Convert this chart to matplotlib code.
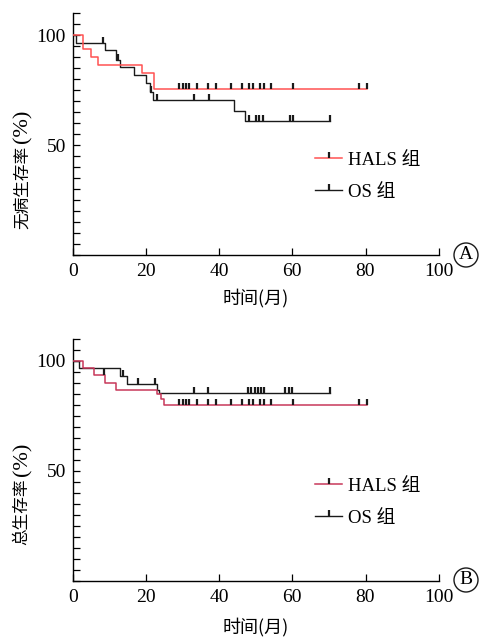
import matplotlib
matplotlib.use("Agg")
import matplotlib.pyplot as plt
from matplotlib.lines import Line2D
import numpy as np

# ---------------- data ----------------
# Panel A: disease-free survival
a_hals_t = [0, 2.8, 5.0, 7.0, 18.9, 22.1, 80.5]
a_hals_s = [100, 93.5, 90.1, 86.4, 82.9, 75.5, 75.5]
a_hals_cens = [29, 30, 31, 31.8, 34, 37, 39.1, 43.3, 46.2, 48.3, 49.2, 51.3, 52.3, 54.3, 60.2, 78.3, 80.4]

a_os_t = [0, 0.8, 8.8, 11.8, 12.9, 16.8, 20.1, 21.0, 22.0, 44.2, 47.2, 70.3]
a_os_s = [100, 96.5, 93.2, 88.6, 85.6, 81.8, 78.0, 74.2, 70.5, 65.6, 60.9, 60.9]
a_os_cens = [8.2, 12.5, 21.3, 23.0, 33.1, 37.2, 48.1, 50.1, 51.0, 52.0, 59.3, 60.2, 70.3]

# Panel B: overall survival
b_hals_t = [0, 2.8, 5.9, 8.8, 11.8, 23.0, 24.2, 25.0, 80.5]
b_hals_s = [100, 96.6, 93.6, 90.2, 87.0, 85.0, 82.5, 80.0, 80.0]
b_hals_cens = [8.5, 29, 30, 31, 31.8, 34, 37, 39.1, 43.3, 46.2, 48.3, 49.2, 51.3, 52.3, 54.3, 60.2, 78.3, 80.4]

b_os_t = [0, 1.7, 12.9, 14.8, 23.0, 23.6, 70.3]
b_os_s = [100, 96.6, 93.1, 89.3, 87.0, 85.2, 85.2]
b_os_cens = [13.7, 17.9, 22.5, 33.1, 36.9, 47.8, 48.8, 49.7, 50.6, 51.5, 52.4, 58.1, 59.0, 60.0, 70.3]

x_ticks = [0, 20, 40, 60, 80, 100]
y_major_labels = {50: "50", 100: "100"}
xlabel = "时间(月)"
ylabel_main = ["无病生存率", "总生存率"]
ylabel_unit = "(%)"
legend_labels = ["HALS 组", "OS 组"]
panel_tags = ["A", "B"]

# ---------------- style ----------------
SERIF = ["Liberation Serif", "Noto Sans CJK SC"]
CJK = ["Noto Sans CJK SC", "DejaVu Sans"]
plt.rcParams["font.family"] = SERIF

W, H = 486, 638
fig = plt.figure(figsize=(W / 100, H / 100), dpi=100)

red_colors = ["#ff5252", "#c8385a"]
black = "#1a1a1a"

def surv_at(ts, ss, t):
    idx = np.searchsorted(ts, t, side="right") - 1
    return ss[idx]

panels = [
    (a_hals_t, a_hals_s, a_hals_cens, a_os_t, a_os_s, a_os_cens),
    (b_hals_t, b_hals_s, b_hals_cens, b_os_t, b_os_s, b_os_cens),
]
axes_rects = [
    [72.7 / W, 1 - 255 / H, 366 / W, 242 / H],
    [72.7 / W, 1 - 580.7 / H, 366 / W, 241.7 / H],
]
tag_pos = [(466, 255), (466, 580)]
xlabel_y = [298, 627]
ylabel_main_y = [187, 512]
ylabel_unit_y = [126, 459]

for i, (ht, hs, hc, ot, os_, oc) in enumerate(panels):
    ax = fig.add_axes(axes_rects[i])
    rc = red_colors[i]
    ax.step(ht, hs, where="post", color=rc, lw=1.1, zorder=3)
    ax.step(ot, os_, where="post", color=black, lw=1.0, zorder=2)
    ax.plot(hc, [surv_at(ht, hs, t) for t in hc], ls="none", marker=2,
            ms=4, mew=1.6, color=black, zorder=4)
    ax.plot(oc, [surv_at(ot, os_, t) for t in oc], ls="none", marker=2,
            ms=4, mew=1.6, color=black, zorder=4)

    ax.set_xlim(0, 100)
    ax.set_ylim(0, 110)
    ax.set_xticks(x_ticks)
    ax.set_xticklabels([str(v) for v in x_ticks])
    yt = np.arange(0, 111, 5)
    ax.set_yticks(yt)
    ax.set_yticklabels([y_major_labels.get(int(v), "") for v in yt])
    ax.tick_params(axis="both", direction="in", labelsize=14, width=0.9)
    ax.tick_params(axis="y", length=5, pad=5)
    ax.tick_params(axis="x", length=5, pad=6)
    for sp in ["top", "right"]:
        ax.spines[sp].set_visible(False)
    for sp in ["left", "bottom"]:
        ax.spines[sp].set_linewidth(1.0)

    handles = [
        Line2D([0], [0], color=rc, lw=1.1, marker=2, ms=4, mew=1.6, mec=black),
        Line2D([0], [0], color=black, lw=1.0, marker=2, ms=4, mew=1.6, mec=black),
    ]
    ax.legend(handles, legend_labels, loc="center left",
              bbox_to_anchor=(0.616, 0.325), frameon=False,
              handlelength=1.45, handletextpad=0.3, labelspacing=0.8,
              prop={"family": SERIF, "size": 13.5})

    fig.text(255.7 / W, 1 - xlabel_y[i] / H, xlabel, ha="center", va="center",
             fontsize=13, family=CJK)
    fig.text(22 / W, 1 - ylabel_main_y[i] / H, ylabel_main[i], ha="center",
             va="center", rotation=90, fontsize=12, family=CJK)
    fig.text(23 / W, 1 - ylabel_unit_y[i] / H, ylabel_unit, ha="center",
             va="center", rotation=90, fontsize=16, family=SERIF)
    fig.text(tag_pos[i][0] / W, 1 - tag_pos[i][1] / H, panel_tags[i],
             ha="center", va="center", fontsize=14, family=SERIF,
             bbox=dict(boxstyle="circle,pad=0.18", fc="white", ec=black, lw=1.0))

fig.savefig("out.png", dpi=100)
